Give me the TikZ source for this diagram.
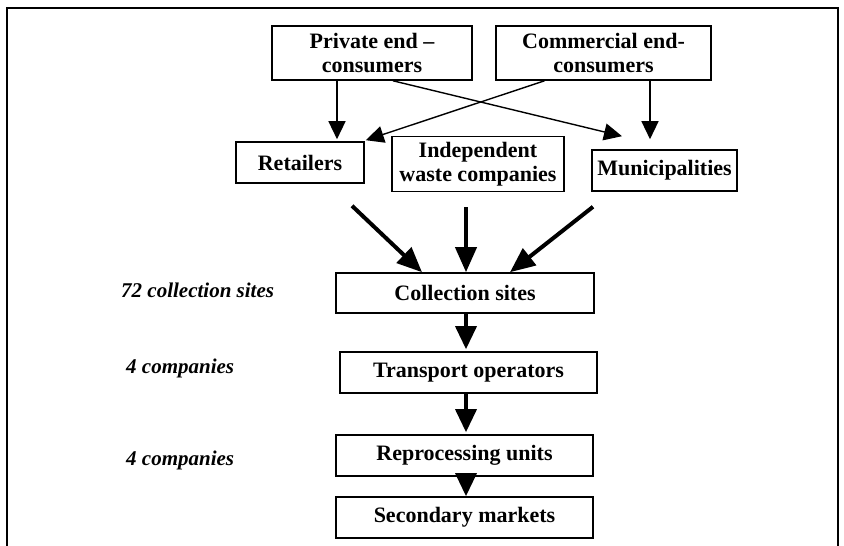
\documentclass[tikz,border=0pt]{standalone}
\usepackage{fontspec}
\setmainfont{Liberation Serif}
\usetikzlibrary{arrows.meta}
\begin{document}
\begin{tikzpicture}[x=1pt,y=-1pt,
  box/.style={draw, line width=1.6pt, align=center, inner sep=0pt,
    font=\bfseries\fontsize{22}{24}\selectfont},
  note/.style={anchor=west, inner sep=0pt,
    font=\bfseries\itshape\fontsize{21}{23}\selectfont},
  thinarrow/.style={line width=1.4pt, -{Triangle[length=18pt,width=17pt]}},
  thickarrow/.style={line width=4pt, -{Triangle[length=25pt,width=21pt]}},
  chainarrow/.style={line width=3.5pt, -{Triangle[length=23pt,width=21pt]}}]
\useasboundingbox (0,0) rectangle (844,546);
% open frame
\draw[line width=2pt] (7,546) -- (7,8) -- (838,8) -- (838,546);
% boxes
\node[box, minimum width=200pt, minimum height=54pt] (priv) at (372,53) {Private end --\\consumers};
\node[box, minimum width=215pt, minimum height=54pt] (comm) at (603.5,53) {Commercial end-\\consumers};
\node[box, minimum width=128pt, minimum height=41pt] (ret) at (300,162.5) {Retailers};
\node[box, minimum width=172pt, minimum height=55pt] (ind) at (478,164) {Independent\\waste companies};
\node[box, minimum width=145pt, minimum height=41pt] (mun) at (664.5,170.5) {Municipalities};
\node[box, minimum width=258pt, minimum height=40pt] (coll) at (465,293) {Collection sites};
\node[box, minimum width=257pt, minimum height=41pt] (trans) at (468.5,372.5) {Transport operators};
\node[box, minimum width=257pt, minimum height=41pt] (rep) at (464.5,455.5) {Reprocessing units};
\node[box, minimum width=257pt, minimum height=41pt] (sec) at (464.5,517.5) {Secondary markets};
% side notes
\node[note] (n1) at (121,290) {72 collection sites};
\node[note] (n2) at (126,368) {4 companies};
\node[note] (n3) at (126,460) {4 companies};
% consumers to intermediaries
\draw[thinarrow] ([xshift=-35pt]priv.south) -- ([xshift=37pt,yshift=2pt]ret.north);
\draw[thinarrow] ([xshift=-59pt]comm.south) -- ([xshift=1pt,yshift=1pt]ret.north east);
\draw[thinarrow] ([xshift=21pt]priv.south) -- ([xshift=-42.5pt,yshift=13pt]mun.north);
\draw[thinarrow] ([xshift=46.5pt]comm.south) -- ([xshift=-14.5pt,yshift=10pt]mun.north);
% intermediaries to collection sites
\draw[thickarrow] ([xshift=52pt,yshift=-22pt]ret.south) -- ([xshift=-43pt]coll.north);
\draw[thickarrow] ([xshift=-12pt,yshift=-15pt]ind.south) -- ([xshift=1pt]coll.north);
\draw[thickarrow] ([xshift=-71.5pt,yshift=-15pt]mun.south) -- ([xshift=45pt]coll.north);
% processing chain
\draw[chainarrow] ([xshift=1pt]coll.south) -- ([xshift=-2.5pt,yshift=2pt]trans.north);
\draw[chainarrow] ([xshift=-2.5pt]trans.south) -- ([xshift=1.5pt,yshift=2pt]rep.north);
\draw[chainarrow] ([xshift=1.5pt]rep.south) -- ([xshift=1.5pt]sec.north);
\end{tikzpicture}
\end{document}
